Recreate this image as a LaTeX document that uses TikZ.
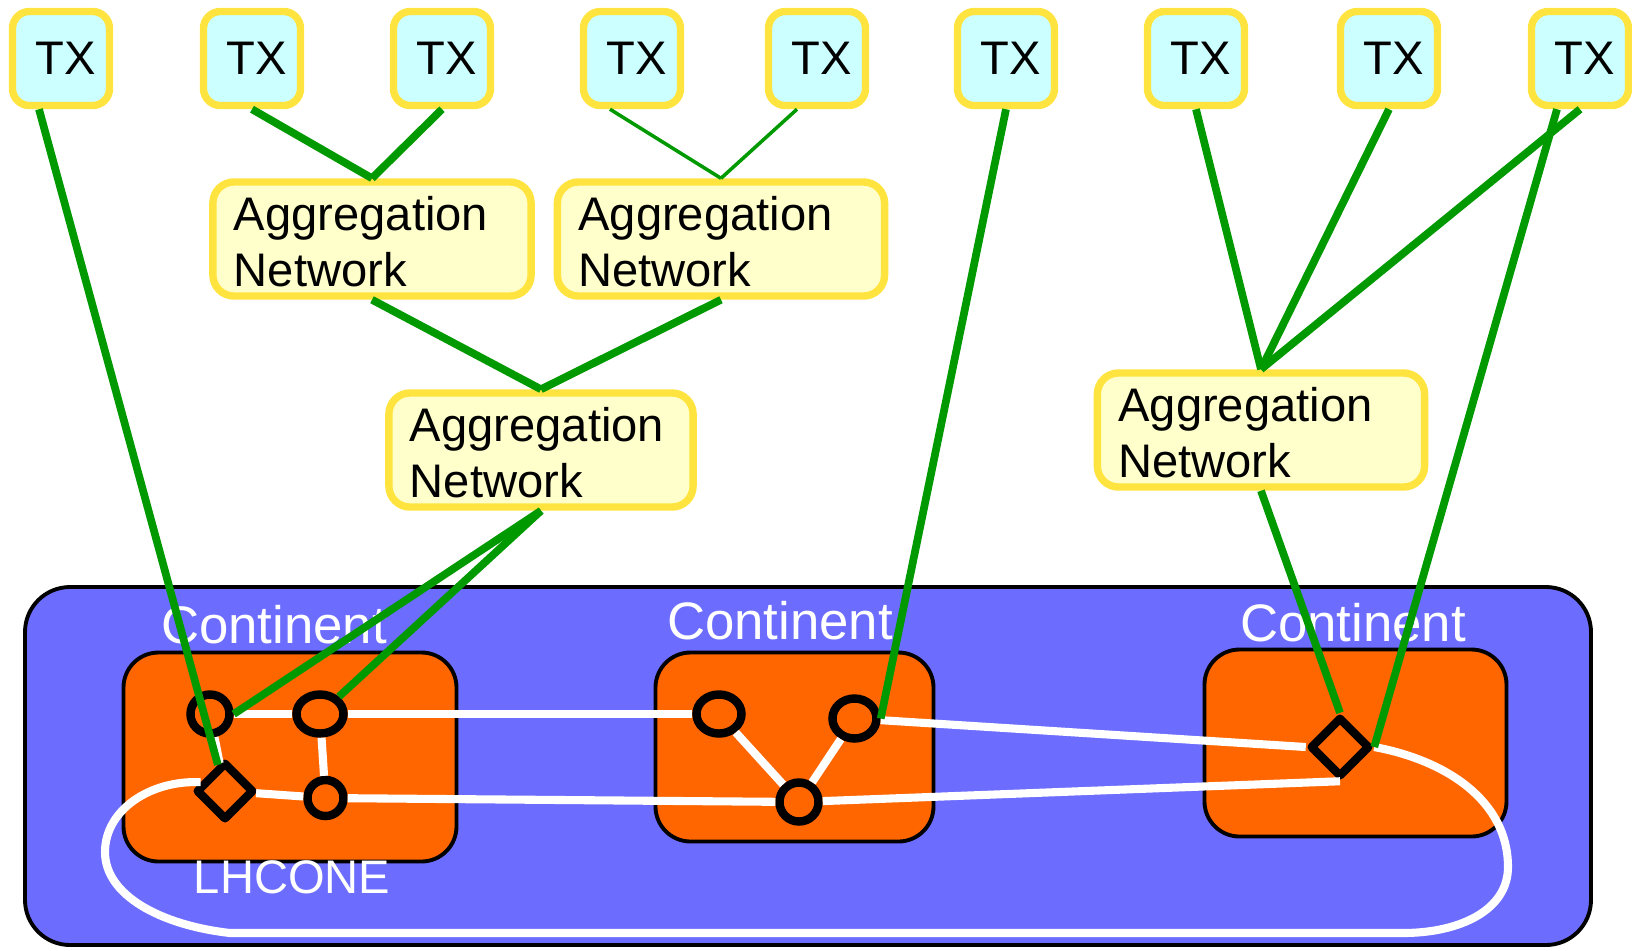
\documentclass[tikz,border=0pt]{standalone}
\usepackage{fontspec}
\setmainfont{Liberation Sans}
\definecolor{BoxYellow}{RGB}{255,228,64}
\definecolor{TXCyan}{RGB}{204,255,255}
\definecolor{AggYellow}{RGB}{255,255,204}
\definecolor{LinkOrange}{RGB}{255,102,0}
\definecolor{LhcBlue}{RGB}{108,108,255}
\definecolor{LinkGreen}{RGB}{0,153,0}
\usetikzlibrary{positioning,shapes.geometric,calc}
\tikzset{>=latex}

\begin{document}
\begin{tikzpicture}[x=.01cm, y=-.01cm,
    tx/.style={draw=BoxYellow, line width=2.1pt, fill=TXCyan, rounded corners=.17cm, minimum width=.97cm, minimum height=.94cm, inner sep=0pt, font=\fontsize{13.4}{16}\selectfont},
    agg/.style={draw=BoxYellow, line width=2.1pt, fill=AggYellow, rounded corners=.21cm, text width=#1, text height=11.3pt, align=left, inner xsep=.21cm, inner ysep=0pt, minimum height=1.14cm, font=\fontsize{13.4}{16}\selectfont},
    router/.style={draw, line width=2.4pt, fill=LinkOrange, ellipse, inner sep=0pt, minimum width=.39cm, minimum height=.39cm},
    hub/.style={draw, line width=2.4pt, line join=round, fill=LinkOrange, diamond, inner sep=0pt, minimum width=.58cm, minimum height=.58cm},
    continent/.style={anchor=base, text=white, font=\fontsize{15}{18}\selectfont},
    uplink/.style={draw=LinkGreen, line width=2.2pt},
    wire/.style={draw=white, line width=2.3pt}]
    \useasboundingbox (0,0) rectangle (1632,950);
    \draw[line width=1.1pt, fill=LhcBlue, rounded corners=.45cm] (25,587) rectangle (1591,945);
    \draw[line width=1.1pt, fill=LinkOrange, rounded corners=.35cm] (123.5,652.5) rectangle (456.5,861.5);
    \draw[line width=1.1pt, fill=LinkOrange, rounded corners=.35cm] (655.5,652.5) rectangle (933.5,841.5);
    \draw[line width=1.1pt, fill=LinkOrange, rounded corners=.35cm] (1204.5,649.5) rectangle (1506.5,836.5);
    \node[continent] (cont1) at (274,643) {Continent};
    \node[continent] (cont2) at (780,639) {Continent};
    \node[continent] (cont3) at (1353,641) {Continent};
    \node[anchor=base, text=white, font=\fontsize{13.4}{16}\selectfont] (lhcone) at (292,893) {LHCONE};
    \foreach \x [count=\i] in {61,252,442,632,817,1006,1196,1389,1580}{
        \node[tx] (tx\i) at (\x,58.5) {\hspace*{.1cm}TX};
    }
    \node[agg=2.76cm] (agg1) at (372,239) {Aggregation\\Network};
    \node[agg=2.85cm] (agg2) at (721,239) {Aggregation\\Network};
    \node[agg=2.62cm] (agg3) at (541,450) {Aggregation\\Network};
    \node[agg=2.85cm] (agg4) at (1261,430) {Aggregation\\Network};
    \node[router] (n1a) at (210,714) {};
    \node[router, minimum width=.47cm] (n1b) at (320,714) {};
    \node[router, minimum width=.36cm, minimum height=.36cm] (n1c) at (325.5,798) {};
    \node[hub] (hub1) at (225,791) {};
    \node[router, minimum width=.45cm] (n2a) at (719,714) {};
    \node[router, minimum width=.44cm, minimum height=.40cm] (n2b) at (854.5,718.5) {};
    \node[router] (n2c) at (799,802) {};
    \node[hub, minimum width=.6cm, minimum height=.6cm] (hub3) at (1340,747) {};
    \draw[wire] (n1a) -- (n1b) -- (n2a);
    \draw[wire] (n1a) -- (hub1) -- (n1c) -- (n2c) -- (hub3.south);
    \draw[wire] (n1b) -- (n1c);
    \draw[wire] (n2a) -- (n2c) -- (n2b) -- (hub3.west);
    \draw[wire] (hub3.east) .. controls (1445,760) and (1508,800) .. (1508,867) .. controls (1508,910) and (1460,933) .. (1403,933) -- (230,933) .. controls (160,925) and (105,895) .. (105,852) .. controls (105,810) and (150,780) .. (hub1.160);
    \draw[uplink] ($(tx1.south)+(-22,0)$) -- (hub1);
    \draw[uplink] (tx2.south) -- (agg1.north);
    \draw[uplink] (tx3.south) -- (agg1.north);
    \draw[uplink, line width=1pt] ($(tx4.south)+(-22,0)$) -- (agg2.north);
    \draw[uplink, line width=1pt] ($(tx5.south)+(-20,0)$) -- (agg2.north);
    \draw[uplink] (agg1.south) -- (agg3.north);
    \draw[uplink] (agg2.south) -- (agg3.north);
    \draw[uplink] (agg3.south) -- (n1a.east);
    \draw[uplink] (agg3.south) -- (n1b);
    \draw[uplink] (tx6.south) -- (n2b.east);
    \draw[uplink] (tx7.south) -- (agg4.north);
    \draw[uplink] (tx8.south) -- (agg4.north);
    \draw[uplink] (tx9.south) -- (agg4.north);
    \draw[uplink] ($(tx9.south)+(-23,0)$) -- (hub3.east);
    \draw[uplink] (agg4.south) -- (hub3.north);
\end{tikzpicture}
\end{document}
